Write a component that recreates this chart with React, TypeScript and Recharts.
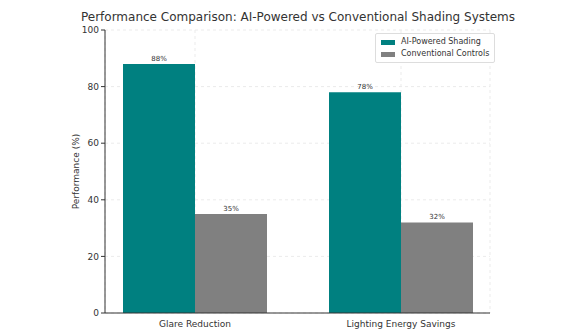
import { BarChart, Bar, XAxis, YAxis, CartesianGrid, LabelList, Label } from 'recharts';

const categories = ['Glare Reduction', 'Lighting Energy Savings'];
const aiPowered = [88, 78];
const conventional = [35, 32];
const yTicks = [0, 20, 40, 60, 80, 100];

const TEAL = '#008080';
const GREY = '#808080';
const FONT = '"DejaVu Sans", sans-serif';

const data = categories.map((name, i) => ({
  name,
  ai: aiPowered[i],
  conv: conventional[i],
}));

function ChartLegend() {
  const items = [
    { label: 'AI-Powered Shading', color: TEAL },
    { label: 'Conventional Controls', color: GREY },
  ];
  return (
    <div
      style={{
        position: 'absolute',
        left: 375,
        top: 33,
        border: '1px solid #ddd',
        borderRadius: 2,
        background: '#fff',
        padding: '2px 5px',
        fontFamily: FONT,
        fontSize: 8,
        color: '#333',
        lineHeight: '12px',
      }}
    >
      {items.map((it) => (
        <div key={it.label} style={{ display: 'flex', alignItems: 'center', gap: 6 }}>
          <span style={{ display: 'inline-block', width: 14, height: 5, background: it.color }} />
          {it.label}
        </div>
      ))}
    </div>
  );
}

export default function App() {
  return (
    <div style={{ position: 'absolute', left: 0, top: 0, width: 585, height: 335, background: '#fff' }}>
      <div
        style={{
          position: 'absolute',
          top: 10,
          left: 0,
          width: 596,
          textAlign: 'center',
          fontFamily: FONT,
          fontSize: 12,
          color: '#333',
        }}
      >
        Performance Comparison: AI-Powered vs Conventional Shading Systems
      </div>
      <BarChart
        width={585}
        height={335}
        data={data}
        margin={{ top: 30, right: 95, left: 0, bottom: 0 }}
        barCategoryGap={31}
        barGap={0}
        style={{ fontFamily: FONT }}
      >
        <CartesianGrid strokeDasharray="3 3" stroke="#ebebeb" />
        <XAxis
          dataKey="name"
          height={22}
          padding={{ left: -13, right: -14 }}
          axisLine={{ stroke: '#333' }}
          tickLine={false}
          tick={{ fontSize: 9, fill: '#333' }}
          tickMargin={2}
        />
        <YAxis
          width={105}
          domain={[0, 100]}
          ticks={yTicks}
          axisLine={{ stroke: '#333' }}
          tickLine={{ stroke: '#333' }}
          tickSize={4}
          tick={{ fontSize: 9, fill: '#333' }}
        >
          <Label
            value="Performance (%)"
            angle={-90}
            position="insideLeft"
            offset={76}
            style={{ fontSize: 9, fill: '#333', textAnchor: 'middle' }}
          />
        </YAxis>
        <Bar dataKey="ai" name="AI-Powered Shading" fill={TEAL} isAnimationActive={false}>
          <LabelList dataKey="ai" position="top" offset={3} formatter={(v: number) => `${v}%`} style={{ fontSize: 7, fill: '#333' }} />
        </Bar>
        <Bar dataKey="conv" name="Conventional Controls" fill={GREY} isAnimationActive={false}>
          <LabelList dataKey="conv" position="top" offset={3} formatter={(v: number) => `${v}%`} style={{ fontSize: 7, fill: '#333' }} />
        </Bar>
      </BarChart>
      <ChartLegend />
    </div>
  );
}
